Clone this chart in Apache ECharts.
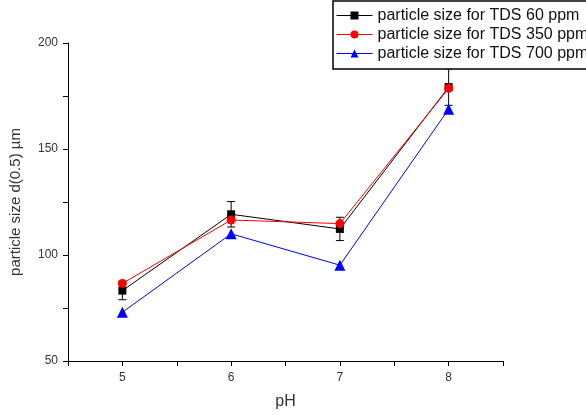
<!DOCTYPE html>
<html>
<head>
<meta charset="utf-8">
<script src="https://cdn.jsdelivr.net/npm/echarts@6/dist/echarts.min.js"></script>
<style>
  html, body { margin: 0; padding: 0; background: #fff; }
  #chart { width: 586px; height: 415px; }
</style>
</head>
<body>
<div id="chart"></div>
<script>
const phValues = [5, 6, 7, 8];
const tds60 = [83.2, 119.2, 112.3, 179.2];
const tds60Err = [4.3, 6.0, 5.5, 8.6];
const tds350 = [86.6, 116.5, 114.8, 178.6];
const tds700 = [73.0, 110.0, 95.2, 168.8];
const seriesNames = [
  'particle size for TDS 60 ppm',
  'particle size for TDS 350 ppm',
  'particle size for TDS 700 ppm'
];

const pairs = (ys) => phValues.map((x, i) => [x, ys[i]]);
const errRows = phValues.map((x, i) => [x, tds60[i] - tds60Err[i], tds60[i] + tds60Err[i]]);

const chart = echarts.init(document.getElementById('chart'), null, { renderer: 'canvas' });

// error bars for the 60 ppm series
function renderErrorBar(params, api) {
  const lo = api.coord([api.value(0), api.value(1)]);
  const hi = api.coord([api.value(0), api.value(2)]);
  const cap = 4;
  const style = { stroke: '#000', lineWidth: 1 };
  return {
    type: 'group',
    children: [
      { type: 'line', shape: { x1: hi[0], y1: hi[1], x2: lo[0], y2: lo[1] }, style },
      { type: 'line', shape: { x1: hi[0] - cap, y1: hi[1], x2: hi[0] + cap, y2: hi[1] }, style },
      { type: 'line', shape: { x1: lo[0] - cap, y1: lo[1], x2: lo[0] + cap, y2: lo[1] }, style }
    ]
  };
}

const axisFont = { fontFamily: 'Liberation Sans, Arial', fontSize: 12, color: '#333' };

chart.setOption({
  animation: false,
  backgroundColor: '#fff',
  grid: { left: 66, right: 83, top: 43, bottom: 51 },
  legend: {
    orient: 'vertical',
    left: 333,
    top: 1,
    padding: [5, 20, 6, 3],
    itemGap: 0,
    itemWidth: 36,
    itemHeight: 10,
    borderColor: '#000',
    borderWidth: 1.5,
    backgroundColor: '#fff',
    lineStyle: { width: 1 },
    data: seriesNames,
    textStyle: { fontFamily: 'Liberation Sans, Arial', fontSize: 16, color: '#111', lineHeight: 19 }
  },
  xAxis: {
    type: 'value',
    min: 4.5,
    max: 8.5,
    interval: 0.5,
    name: 'pH',
    nameLocation: 'middle',
    nameGap: 33,
    nameTextStyle: { fontFamily: 'Liberation Sans, Arial', fontSize: 16, color: '#333' },
    axisLine: { lineStyle: { color: '#000', width: 1 } },
    axisTick: { show: true, inside: false, length: 5, lineStyle: { color: '#000' } },
    axisLabel: Object.assign({
      margin: 11,
      formatter: (v) => (Number.isInteger(v) && v >= 5 && v <= 8 ? String(v) : '')
    }, axisFont),
    splitLine: { show: false }
  },
  yAxis: {
    type: 'value',
    min: 50,
    max: 200,
    interval: 25,
    name: 'particle size d(0.5) \u00b5m',
    nameLocation: 'middle',
    nameGap: 45,
    nameTextStyle: { fontFamily: 'Liberation Sans, Arial', fontSize: 15, color: '#333' },
    axisLine: { show: true, lineStyle: { color: '#000', width: 1 } },
    axisTick: { show: true, inside: false, length: 5, lineStyle: { color: '#000' } },
    axisLabel: Object.assign({
      margin: 10,
      formatter: (v) => (v % 50 === 0 ? String(v) : '')
    }, axisFont),
    splitLine: { show: false }
  },
  series: [
    {
      name: seriesNames[0],
      type: 'line',
      data: pairs(tds60),
      symbol: 'rect',
      symbolSize: 8,
      itemStyle: { color: '#000' },
      lineStyle: { color: '#000', width: 1 }
    },
    {
      name: 'err60',
      type: 'custom',
      data: errRows,
      renderItem: renderErrorBar,
      encode: { x: 0, y: [1, 2] }
    },
    {
      name: seriesNames[1],
      type: 'line',
      data: pairs(tds350),
      symbol: 'circle',
      symbolSize: 9,
      itemStyle: { color: '#ff0000' },
      lineStyle: { color: '#ff0000', width: 1 }
    },
    {
      name: seriesNames[2],
      type: 'line',
      data: pairs(tds700),
      symbol: 'triangle',
      symbolSize: 11,
      itemStyle: { color: '#0000ff' },
      lineStyle: { color: '#0000ff', width: 1 }
    }
  ]
});
</script>
</body>
</html>
